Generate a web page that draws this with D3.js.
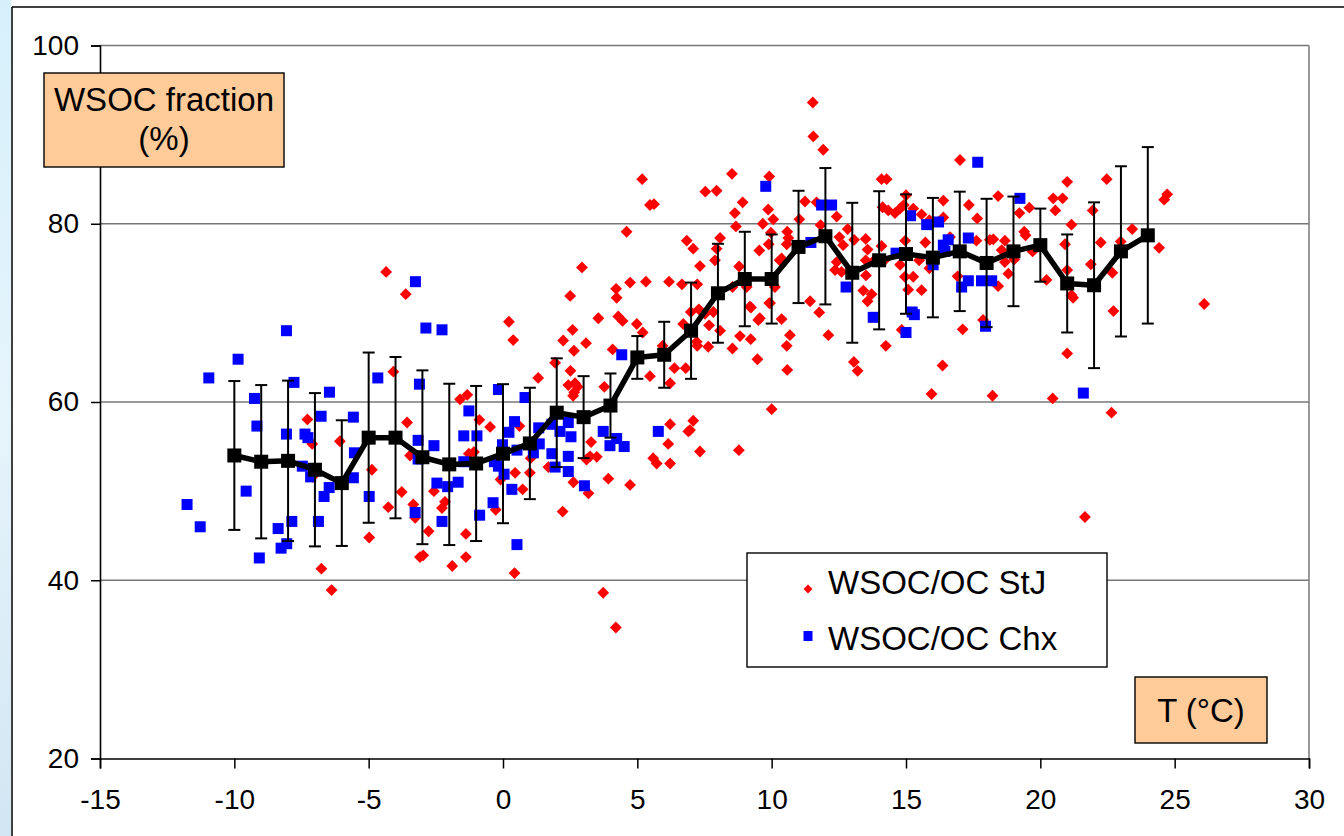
<!DOCTYPE html>
<html><head><meta charset="utf-8">
<script src="https://cdn.jsdelivr.net/npm/d3@7"></script>
<style>html,body{margin:0;padding:0;background:#fff;}svg{display:block;}</style>
</head><body>
<svg id="c" width="1344" height="836"></svg>
<script>
// ---- data ----
const xTicks = [-15,-10,-5,0,5,10,15,20,25,30];
const yTicks = [20,40,60,80,100];
const meanT = [-10,-9,-8,-7,-6,-5,-4,-3,-2,-1,0,1,2,3,4,5,6,7,8,9,10,11,12,13,14,15,16,17,18,19,20,21,22,23,24];
const meanV = [54.0,53.3,53.4,52.4,50.9,56.0,56.0,53.8,53.0,53.1,54.2,55.35,58.8,58.3,59.6,65.0,65.3,68.0,72.2,73.8,73.8,77.4,78.6,74.5,75.9,76.6,76.2,76.9,75.6,76.9,77.6,73.3,73.1,76.9,78.7];
const meanSD = [8.35,8.6,9.0,8.6,7.05,9.55,9.05,9.75,9.05,8.7,7.8,6.25,6.1,4.6,3.6,2.4,3.7,5.4,5.55,5.3,5.0,6.3,7.65,7.85,7.75,6.7,6.7,6.7,7.2,6.15,4.1,5.5,9.3,9.55,9.9];
const stjT = [-3.62,0.22,0.38,-4.08,-7.28,-7.1,-6.07,-3.57,-3.46,-1.6,-1.33,-0.88,-0.48,0.61,-1.27,-1.08,0.45,1.0,-0.09,0.73,-4.88,-3.77,-4.27,-3.34,-3.27,-2.57,-2.16,-2.27,-0.27,-2.77,-1.38,-4.98,-3.09,-2.97,-1.89,-1.38,0.43,-6.76,-6.38,-7.09,-4.35,
2.94,2.5,4.73,5.32,6.18,6.66,7.23,4.21,4.23,7.33,7.89,8.79,7.95,9.54,10.3,10.37,3.55,4.29,4.45,4.98,5.2,2.59,2.24,3.09,2.64,1.94,2.51,1.31,2.43,2.68,2.78,2.61,2.65,3.77,4.08,5.47,5.94,6.22,6.38,6.8,6.99,7.29,7.52,7.83,6.71,7.67,8.08,7.23,7.21,7.64,8.54,8.82,9.22,9.23,9.5,9.56,9.94,10.37,10.68,10.56,10.58,9.47,11.43,11.77,12.11,10.0,5.59,5.72,6.22,6.22,6.15,7.08,6.9,6.96,7.33,8.78,4.73,3.92,3.28,3.11,3.49,3.24,2.62,3.18,2.22,1.69,1.03,3.73,4.2,
5.18,5.47,5.62,7.53,4.6,6.84,7.08,
11.53,11.55,11.92,8.52,9.91,7.95,8.92,8.63,9.87,10.06,9.67,8.67,8.08,9.97,9.89,10.58,10.62,10.56,11.03,11.24,11.67,11.82,12.42,12.52,12.66,12.83,13.07,13.5,13.57,13.5,13.8,12.42,12.6,12.36,13.51,13.41,13.72,13.57,14.09,14.28,14.13,14.34,14.09,14.2,10.12,9.07,8.54,9.19,9.91,
16.39,17.01,17.34,17.65,17.62,18.12,18.25,18.43,18.43,17.11,16.36,15.95,18.22,14.59,14.78,14.92,15.0,15.27,15.58,15.87,16.39,14.97,15.72,15.49,15.87,14.78,15.08,14.96,15.27,15.08,15.58,14.84,14.25,13.06,13.2,17.87,
19.22,19.59,19.4,19.45,18.68,18.56,16.64,16.92,18.68,18.81,19.71,20.23,
19.03,20.48,20.83,20.56,21.0,21.16,20.92,21.0,21.16,21.22,21.0,20.46,21.95,21.88,22.25,22.47,22.68,22.72,22.65,22.99,23.42,24.42,24.61,24.72,26.1,21.66];
const stjV = [72.1,69.0,66.95,63.4,58.05,55.3,55.6,57.7,54.0,60.3,60.8,58.0,57.2,57.3,54.2,54.4,52.05,52.05,51.3,50.2,52.4,49.9,48.2,48.5,47.0,50.0,48.8,48.1,47.9,45.5,45.2,44.8,42.6,42.8,41.6,42.6,40.8,41.3,38.9,51.6,74.6,
75.1,71.9,73.4,73.5,73.5,73.2,73.2,72.7,71.7,75.25,75.9,75.2,77.2,77.0,75.9,76.1,69.4,69.6,69.1,68.75,67.8,68.1,66.9,66.6,65.75,64.4,63.5,62.7,61.9,62.1,61.7,60.7,61.1,61.7,65.9,62.9,66.3,62.1,63.8,63.8,70.1,70.4,69.9,70.1,68.75,68.6,68.0,66.3,66.75,66.2,66.0,67.4,67.05,70.6,69.2,69.4,71.1,69.3,67.5,66.3,63.6,64.8,71.3,70.05,67.5,59.2,53.7,53.1,53.1,57.5,55.3,57.9,56.7,56.85,54.45,54.6,50.7,51.4,55.5,53.55,53.85,53.9,51.0,49.75,47.7,52.7,53.7,38.6,34.7,
85.0,82.1,82.2,83.6,79.1,78.1,77.2,
93.6,89.8,88.3,85.6,85.3,83.7,82.4,81.2,81.6,80.5,80.0,79.7,78.4,79.0,77.7,79.1,78.4,77.7,80.5,82.5,82.4,79.85,80.8,78.5,77.6,79.4,78.2,78.3,77.1,75.9,75.85,75.7,74.6,74.8,74.2,72.5,72.1,71.3,85.0,85.0,81.85,81.5,77.5,75.9,72.9,72.9,72.9,70.7,71.1,
82.6,87.15,82.1,80.6,78.1,78.2,78.25,83.1,73.0,68.15,64.1,60.9,60.7,81.2,81.7,82.1,83.2,81.7,81.05,80.4,80.7,78.1,77.9,75.9,75.0,75.4,76.7,74.05,74.05,72.6,72.55,68.1,66.3,64.5,63.5,69.2,
81.2,81.8,79.1,78.7,78.1,77.05,78.5,74.1,75.7,74.4,76.9,73.7,
76.0,82.85,82.85,81.5,84.7,79.9,77.7,74.8,72.0,71.7,65.45,60.4,81.5,75.45,77.9,85.0,74.5,70.2,58.8,78.0,79.4,77.3,82.7,83.3,71.0,47.1];
const chxT = [-3.26,-2.87,-2.27,-8.06,-9.86,-10.95,-7.78,-9.25,-6.46,-4.66,-3.11,-0.17,0.82,-9.16,-8.06,-7.37,-7.26,-6.77,-5.57,-1.27,-1.46,-0.97,0.43,0.22,-3.16,-2.57,0.52,-0.02,-3.16,-1.46,-0.32,-0.17,-7.47,-7.16,-5.53,-5.57,0.04,-6.47,-6.66,-4.98,-2.46,-2.06,-1.67,-0.37,0.33,-9.56,-11.76,-11.27,-7.86,-6.87,-3.27,-2.27,-0.87,-8.37,-8.05,-8.26,-9.07,0.52,
1.33,1.82,2.12,2.43,2.53,1.35,1.13,1.82,2.43,1.94,2.43,3.03,3.73,4.23,3.98,4.51,4.42,5.78,
9.78,11.86,12.23,11.46,12.77,13.78,14.63,15.17,15.77,16.21,16.01,16.39,16.57,16.45,15.23,15.31,15.0,17.32,17.07,17.32,17.81,18.19,17.96,17.67,19.24,21.6];
const chxV = [73.5,68.3,68.1,68.0,64.8,62.7,62.2,60.4,61.1,62.7,62.0,61.4,60.5,57.3,56.4,56.4,56.0,58.4,58.3,59.0,56.2,56.2,57.8,56.6,55.7,55.1,54.6,55.2,53.6,53.3,53.3,52.8,52.8,51.6,54.3,51.5,51.9,50.4,49.4,49.4,50.9,50.5,51.0,48.7,50.2,50.0,48.5,46.0,46.6,46.6,47.6,46.6,47.3,45.8,44.1,43.6,42.5,44.0,
57.1,57.5,56.7,57.7,56.1,55.3,54.3,54.2,53.9,52.7,52.2,50.6,56.7,55.9,55.1,55.0,65.3,56.7,
84.2,82.1,82.1,77.9,72.9,69.5,76.7,80.9,79.9,80.2,75.4,77.6,78.2,76.9,70.1,69.8,67.8,78.4,72.9,73.6,73.6,73.6,68.5,86.9,82.85,61.0];
const legendLabels = ["WSOC/OC StJ","WSOC/OC Chx"];
const yTitle = ["WSOC fraction","(%)"];
const xTitle = "T (°C)";

// ---- drawing ----
const svg = d3.select("#c");
const FONT = "'Liberation Sans', Arial, Helvetica, sans-serif";
const defs = svg.append("defs");
const lg = defs.append("linearGradient").attr("id","strip").attr("x1",0).attr("y1",0).attr("x2",0).attr("y2",1);
lg.append("stop").attr("offset","0").attr("stop-color","#d6f0fb");
lg.append("stop").attr("offset","0.5").attr("stop-color","#e6f4fb");
lg.append("stop").attr("offset","1").attr("stop-color","#d2e6f3");
svg.append("rect").attr("x",0).attr("y",0).attr("width",11).attr("height",836).attr("fill","url(#strip)");
svg.append("line").attr("x1",12).attr("x2",12).attr("y1",7).attr("y2",836).attr("stroke","#000").attr("stroke-width",1.5);
svg.append("line").attr("x1",12).attr("x2",1344).attr("y1",7).attr("y2",7).attr("stroke","#000").attr("stroke-width",1.5);

const x = d3.scaleLinear().domain([-15,30]).range([100,1309]);
const y = d3.scaleLinear().domain([20,100]).range([758.5,45.5]);

// gridlines
svg.append("g").selectAll("line").data(yTicks.filter(d=>d>20)).join("line")
  .attr("x1",x(-15)).attr("x2",x(30)).attr("y1",d=>y(d)).attr("y2",d=>y(d))
  .attr("stroke","#777").attr("stroke-width",1.4);
svg.append("line").attr("x1",x(30)).attr("x2",x(30)).attr("y1",y(100)).attr("y2",y(20))
  .attr("stroke","#808080").attr("stroke-width",1.6);

// axes
const yAxis = d3.axisLeft(y).tickValues(yTicks).tickSize(9).tickPadding(12).tickFormat(d3.format("d"));
const xAxis = d3.axisBottom(x).tickValues(xTicks).tickSize(10).tickPadding(21).tickFormat(d=>String(d));
const gy = svg.append("g").attr("transform",`translate(${x(-15)},0)`).call(yAxis);
const gx = svg.append("g").attr("transform",`translate(0,${y(20)})`).call(xAxis);
[gx,gy].forEach(g=>{
  g.select(".domain").attr("stroke","#000").attr("stroke-width",1.6);
  g.selectAll(".tick line").attr("stroke","#000").attr("stroke-width",1.5);
  g.selectAll(".tick text").attr("fill","#000").style("font-family",FONT).style("font-size","28px");
});

// scatter StJ (red diamonds), Chx (blue squares)
const stj = stjT.map((t,i)=>[t,stjV[i]]);
const chx = chxT.map((t,i)=>[t,chxV[i]]);
svg.append("g").selectAll("path").data(stj).join("path")
  .attr("d",d3.symbol(d3.symbolSquare,70)())
  .attr("transform",d=>`translate(${x(d[0])},${y(d[1])}) rotate(45)`)
  .attr("fill","#ff0000");
svg.append("g").selectAll("rect").data(chx).join("rect")
  .attr("x",d=>x(d[0])-5.5).attr("y",d=>y(d[1])-5.5).attr("width",11).attr("height",11)
  .attr("fill","#0000ff");

// error bars
const mean = meanT.map((t,i)=>({t,v:meanV[i],sd:meanSD[i]}));
const eb = svg.append("g").attr("stroke","#000").attr("stroke-width",2);
eb.selectAll("line.v").data(mean).join("line").attr("class","v")
  .attr("x1",d=>x(d.t)).attr("x2",d=>x(d.t)).attr("y1",d=>y(d.v+d.sd)).attr("y2",d=>y(d.v-d.sd));
eb.selectAll("line.t").data(mean).join("line").attr("class","t")
  .attr("x1",d=>x(d.t)-6).attr("x2",d=>x(d.t)+6).attr("y1",d=>y(d.v+d.sd)).attr("y2",d=>y(d.v+d.sd));
eb.selectAll("line.b").data(mean).join("line").attr("class","b")
  .attr("x1",d=>x(d.t)-6).attr("x2",d=>x(d.t)+6).attr("y1",d=>y(d.v-d.sd)).attr("y2",d=>y(d.v-d.sd));

// mean line
svg.append("path").datum(mean)
  .attr("d",d3.line().x(d=>x(d.t)).y(d=>y(d.v)))
  .attr("fill","none").attr("stroke","#000").attr("stroke-width",5.5).attr("stroke-linejoin","round");
svg.append("g").selectAll("rect").data(mean).join("rect")
  .attr("x",d=>x(d.t)-7).attr("y",d=>y(d.v)-7).attr("width",14).attr("height",14).attr("fill","#000");

// legend
const leg = svg.append("g");
leg.append("rect").attr("x",747).attr("y",553).attr("width",360).attr("height",114)
  .attr("fill","#fff").attr("stroke","#000").attr("stroke-width",1.4);
leg.append("path").attr("d",d3.symbol(d3.symbolSquare,40)()).attr("transform","translate(808,589) rotate(45)").attr("fill","#ff0000");
leg.append("rect").attr("x",803.5).attr("y",631).attr("width",9).attr("height",10).attr("fill","#0000ff");
leg.selectAll("text").data(legendLabels).join("text")
  .attr("x",828).attr("y",(d,i)=>594+i*56).text(d=>d)
  .style("font-family",FONT).style("font-size","33px").attr("fill","#000");

// y title box
svg.append("rect").attr("x",44).attr("y",73).attr("width",240).attr("height",94)
  .attr("fill","#ffcc99").attr("stroke","#000").attr("stroke-width",1.4);
svg.append("g").selectAll("text").data(yTitle).join("text")
  .attr("x",164).attr("y",(d,i)=>111+i*39).attr("text-anchor","middle").text(d=>d)
  .style("font-family",FONT).style("font-size","33px").attr("fill","#000");

// x title box
svg.append("rect").attr("x",1135).attr("y",677).attr("width",132).attr("height",66)
  .attr("fill","#ffcc99").attr("stroke","#000").attr("stroke-width",1.4);
svg.append("text").attr("x",1201).attr("y",722).attr("text-anchor","middle").text(xTitle)
  .style("font-family",FONT).style("font-size","33px").attr("fill","#000");
</script>
</body></html>
